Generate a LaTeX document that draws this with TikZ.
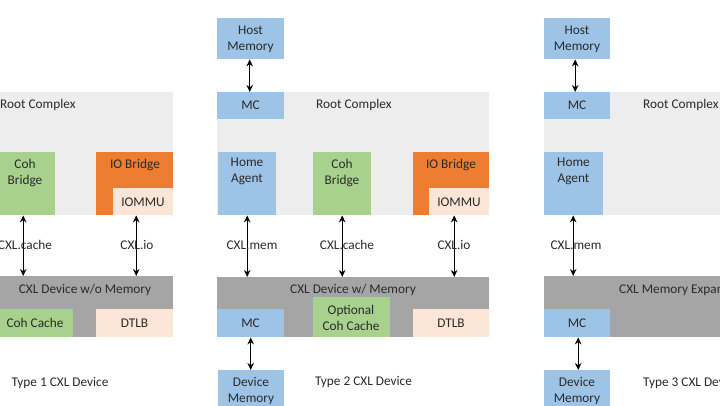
\documentclass[tikz,border=0pt]{standalone}
\usepackage{fontspec}
\setmainfont{Carlito}
\usetikzlibrary{arrows.meta}
\definecolor{lgray}{HTML}{EDEDED}
\definecolor{dgray}{HTML}{A5A5A5}
\definecolor{cgreen}{HTML}{A9D18E}
\definecolor{corange}{HTML}{ED7D31}
\definecolor{cpeach}{HTML}{FBE5D6}
\definecolor{cblue}{HTML}{9DC3E6}
\definecolor{ctext}{HTML}{2A2A2A}
\begin{document}
\begin{tikzpicture}[x=1pt,y=-1pt,
  box/.style={rectangle,draw=none,inner sep=0pt,anchor=north west},
  txt/.style={inner sep=0pt,text=ctext,font=\fontsize{13.3}{16}\selectfont,align=center},
  link/.style={line width=1.2pt,{Stealth[length=7pt,width=6.5pt]}-{Stealth[length=7pt,width=6.5pt]}}]
\useasboundingbox (0,0) rectangle (720,405);
\clip (0,0) rectangle (720,405);
\fill[white] (0,0) rectangle (720,405);

% ---------------- Panel 1 ----------------
\node[box,fill=lgray,minimum width=272pt,minimum height=123pt] (rc1) at (-99,92) {};
\node[box,fill=cgreen,minimum width=58pt,minimum height=63pt] (coh1) at (-3,152) {};
\node[box,fill=corange,minimum width=77pt,minimum height=63pt] (iob1) at (96,152) {};
\node[box,fill=cpeach,minimum width=60pt,minimum height=27pt] (iommu1) at (113,188) {};
\node[box,fill=dgray,minimum width=176pt,minimum height=61pt] (dev1) at (-3,276) {};
\node[box,fill=cgreen,minimum width=76pt,minimum height=28pt] (cc1) at (-3,309) {};
\node[box,fill=cpeach,minimum width=77pt,minimum height=28pt] (dtlb1) at (96,309) {};

\node[txt,anchor=west] (rct1) at (0,105) {Root Complex};
\node[txt] (coht1) at (25,173) {Coh\\Bridge};
\node[txt] (iobt1) at (135,165) {IO Bridge};
\node[txt] (iommut1) at (143,202) {IOMMU};
\node[txt] (devt1) at (85,290) {CXL Device w/o Memory};
\node[txt] (cct1) at (35,323) {Coh Cache};
\node[txt] (dtlbt1) at (134.5,323) {DTLB};
\node[txt] (type1) at (60,383) {Type 1 CXL Device};

\draw[link] (coh1.south) ++(-3,0) coordinate (a1s) -- (a1s |- dev1.north);
\draw[link] ([xshift=-7pt]iommu1.south) coordinate (b1s) -- (b1s |- dev1.north);
\node[txt] (l11) at (25,245) {CXL.cache};
\node[txt] (l12) at (137,245) {CXL.io};

% ---------------- Panel 2 ----------------
\node[box,fill=lgray,minimum width=272pt,minimum height=123pt] (rc2) at (217,92) {};
\node[box,fill=cblue,minimum width=67pt,minimum height=41pt] (hm2) at (217,18) {};
\node[box,fill=cblue,minimum width=67pt,minimum height=27pt] (mc2) at (217,92) {};
\node[box,fill=cblue,minimum width=58pt,minimum height=63pt] (ha2) at (218,152) {};
\node[box,fill=cgreen,minimum width=58pt,minimum height=63pt] (coh2) at (313,152) {};
\node[box,fill=corange,minimum width=76pt,minimum height=63pt] (iob2) at (413,152) {};
\node[box,fill=cpeach,minimum width=60pt,minimum height=27pt] (iommu2) at (429,188) {};
\node[box,fill=dgray,minimum width=272pt,minimum height=60pt] (dev2) at (217,277) {};
\node[box,fill=cblue,minimum width=67pt,minimum height=28pt] (dmc2) at (217,309) {};
\node[box,fill=cgreen,minimum width=77pt,minimum height=40pt] (occ2) at (313,297) {};
\node[box,fill=cpeach,minimum width=76pt,minimum height=28pt] (dtlb2) at (413,309) {};
\node[box,fill=cblue,minimum width=66pt,minimum height=45pt] (dm2) at (218,370) {};

\node[txt] (hmt2) at (250.5,39) {Host\\Memory};
\node[txt] (mct2) at (250.5,105) {MC};
\node[txt,anchor=west] (rct2) at (316,105) {Root Complex};
\node[txt] (hat2) at (247,171.5) {Home\\Agent};
\node[txt] (coht2) at (342,173) {Coh\\Bridge};
\node[txt] (iobt2) at (451,165) {IO Bridge};
\node[txt] (iommut2) at (459,202) {IOMMU};
\node[txt] (devt2) at (353,290) {CXL Device w/ Memory};
\node[txt] (dmct2) at (250.5,323) {MC};
\node[txt] (occt2) at (351,317.5) {Optional\\Coh Cache};
\node[txt] (dtlbt2) at (451,323) {DTLB};
\node[txt] (dmt2) at (251,390.5) {Device\\Memory};
\node[txt] (type2) at (363.5,382) {Type 2 CXL Device};

\draw[link] ([xshift=-1pt]hm2.south) coordinate (h2s) -- (h2s |- mc2.north);
\draw[link] (ha2.south) coordinate (a2s) -- (a2s |- dev2.north);
\draw[link] (coh2.south) coordinate (c2s) -- (c2s |- dev2.north);
\draw[link] ([xshift=-5pt]iommu2.south) coordinate (i2s) -- (i2s |- dev2.north);
\draw[link] (dmc2.south) coordinate (m2s) -- (m2s |- dm2.north);
\node[txt] (l21) at (252,245) {CXL.mem};
\node[txt] (l22) at (347,245) {CXL.cache};
\node[txt] (l23) at (454,245) {CXL.io};

% ---------------- Panel 3 ----------------
\node[box,fill=lgray,minimum width=272pt,minimum height=123pt] (rc3) at (544,92) {};
\node[box,fill=cblue,minimum width=66pt,minimum height=41pt] (hm3) at (544,18) {};
\node[box,fill=cblue,minimum width=66pt,minimum height=27pt] (mc3) at (544,92) {};
\node[box,fill=cblue,minimum width=59pt,minimum height=63pt] (ha3) at (544,152) {};
\node[box,fill=dgray,minimum width=272pt,minimum height=61pt] (dev3) at (544,276) {};
\node[box,fill=cblue,minimum width=66pt,minimum height=28pt] (dmc3) at (544,309) {};
\node[box,fill=cblue,minimum width=66pt,minimum height=45pt] (dm3) at (544,370) {};

\node[txt] (hmt3) at (577,39) {Host\\Memory};
\node[txt] (mct3) at (577,105) {MC};
\node[txt,anchor=west] (rct3) at (643,105) {Root Complex};
\node[txt] (hat3) at (573.5,171.5) {Home\\Agent};
\node[txt,anchor=west] (devt3) at (619,290) {CXL Memory Expander};
\node[txt] (dmct3) at (577,323) {MC};
\node[txt] (dmt3) at (577,390.5) {Device\\Memory};
\node[txt,anchor=west] (type3) at (643,383) {Type 3 CXL Device};

\draw[link] ([xshift=-2pt]hm3.south) coordinate (h3s) -- (h3s |- mc3.north);
\draw[link] ([xshift=-0.5pt]ha3.south) coordinate (a3s) -- (a3s |- dev3.north);
\draw[link] ([xshift=1pt]dmc3.south) coordinate (m3s) -- (m3s |- dm3.north);
\node[txt] (l31) at (576,245) {CXL.mem};
\end{tikzpicture}
\end{document}
